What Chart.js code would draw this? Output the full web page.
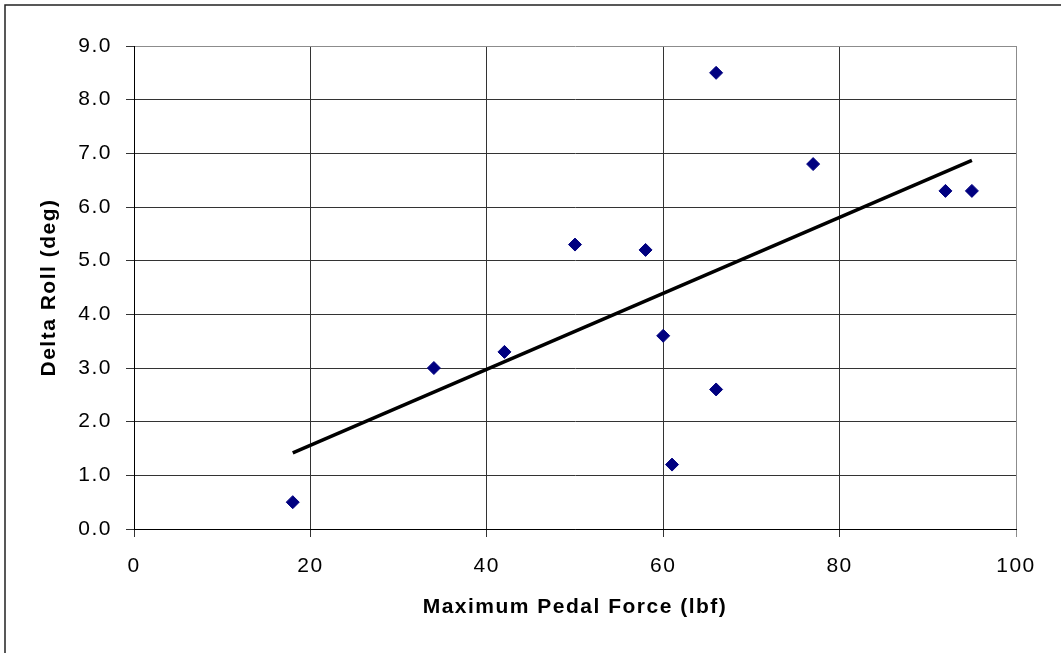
<!DOCTYPE html>
<html>
<head>
<meta charset="utf-8">
<title>Delta Roll vs Maximum Pedal Force</title>
<script src="https://cdn.jsdelivr.net/npm/chart.js@4.4.1/dist/chart.umd.min.js"></script>
<style>
  html, body { margin: 0; padding: 0; background: #ffffff; }
  #wrap { width: 1061px; height: 653px; position: relative; }
</style>
</head>
<body>
<div id="wrap"><canvas id="chart"></canvas></div>
<script>
// Measured runs: maximum pedal force (lbf) and resulting roll change (deg)
const pedalForce = [18, 34, 42, 50, 58, 60, 61, 66, 66, 77, 92, 95];
const deltaRoll  = [0.5, 3.0, 3.3, 5.3, 5.2, 3.6, 1.2, 8.5, 2.6, 6.8, 6.3, 6.3];

// Linear trend line end points
const trendX = [18, 95];
const trendY = [1.42, 6.87];

// Axis ranges and tick steps
const xRange = [0, 100, 20];
const yRange = [0, 9, 1];

const FONT = "'Liberation Sans', Arial, sans-serif";

const points = pedalForce.map((x, i) => ({ x: x, y: deltaRoll[i] }));
const trend = trendX.map((x, i) => ({ x: x, y: trendY[i] }));

// Slightly spaced lettering for all chart text
const spacingPlugin = {
  id: 'spacing',
  beforeInit(chart) { chart.ctx.letterSpacing = '1.5px'; },
  beforeLayout(chart) { chart.ctx.letterSpacing = '1.5px'; },
  beforeDraw(chart) { chart.ctx.letterSpacing = '1.5px'; }
};

// Outer frame of the chart object
const framePlugin = {
  id: 'frame',
  afterDraw(chart) {
    const ctx = chart.ctx;
    ctx.save();
    ctx.strokeStyle = '#222';
    ctx.lineWidth = 1.5;
    ctx.strokeRect(5, 5, chart.width + 20, chart.height + 20);
    ctx.restore();
  }
};

const edgeColor = (max) => (c) => (c.tick && c.tick.value === max) ? '#8c8c8c' : '#333333';

new Chart(document.getElementById('chart'), {
  type: 'scatter',
  data: {
    datasets: [
      {
        label: 'Trend',
        type: 'line',
        data: trend,
        borderColor: '#000000',
        borderWidth: 3.5,
        pointRadius: 0,
        fill: false,
        order: 2
      },
      {
        label: 'Delta Roll',
        data: points,
        pointStyle: 'rectRot',
        pointRadius: 6.5,
        pointBackgroundColor: '#000080',
        pointBorderColor: '#000080',
        pointBorderWidth: 1,
        order: 1
      }
    ]
  },
  options: {
    responsive: true,
    maintainAspectRatio: false,
    animation: false,
    events: [],
    layout: { padding: { left: 37, top: 46, right: 45, bottom: 33 } },
    plugins: {
      legend: { display: false },
      tooltip: { enabled: false }
    },
    scales: {
      x: {
        type: 'linear',
        min: xRange[0], max: xRange[1],
        ticks: {
          stepSize: xRange[2],
          color: '#000',
          padding: 17,
          font: { family: FONT, size: 21 }
        },
        grid: {
          color: edgeColor(xRange[1]),
          tickColor: edgeColor(xRange[1]),
          lineWidth: 1,
          tickLength: 8
        },
        border: { color: '#000', width: 1 },
        title: {
          display: true,
          text: 'Maximum Pedal Force (lbf)',
          color: '#000',
          font: { family: FONT, size: 21, weight: 'bold' },
          padding: { top: 0, bottom: 0 }
        },
        afterFit(scale) { scale.height = 91; }
      },
      y: {
        type: 'linear',
        min: yRange[0], max: yRange[1],
        ticks: {
          stepSize: yRange[2],
          color: '#000',
          padding: 14,
          font: { family: FONT, size: 21 },
          callback: (v) => Number(v).toFixed(1)
        },
        grid: {
          color: edgeColor(yRange[1]),
          tickColor: '#333333',
          lineWidth: 1,
          tickLength: 8
        },
        border: { color: '#000', width: 1 },
        title: {
          display: true,
          text: 'Delta Roll (deg)',
          color: '#000',
          font: { family: FONT, size: 21, weight: 'bold' },
          padding: { top: 0, bottom: 0 }
        },
        afterFit(scale) { scale.width = 97; }
      }
    }
  },
  plugins: [spacingPlugin, framePlugin]
});
</script>
</body>
</html>
